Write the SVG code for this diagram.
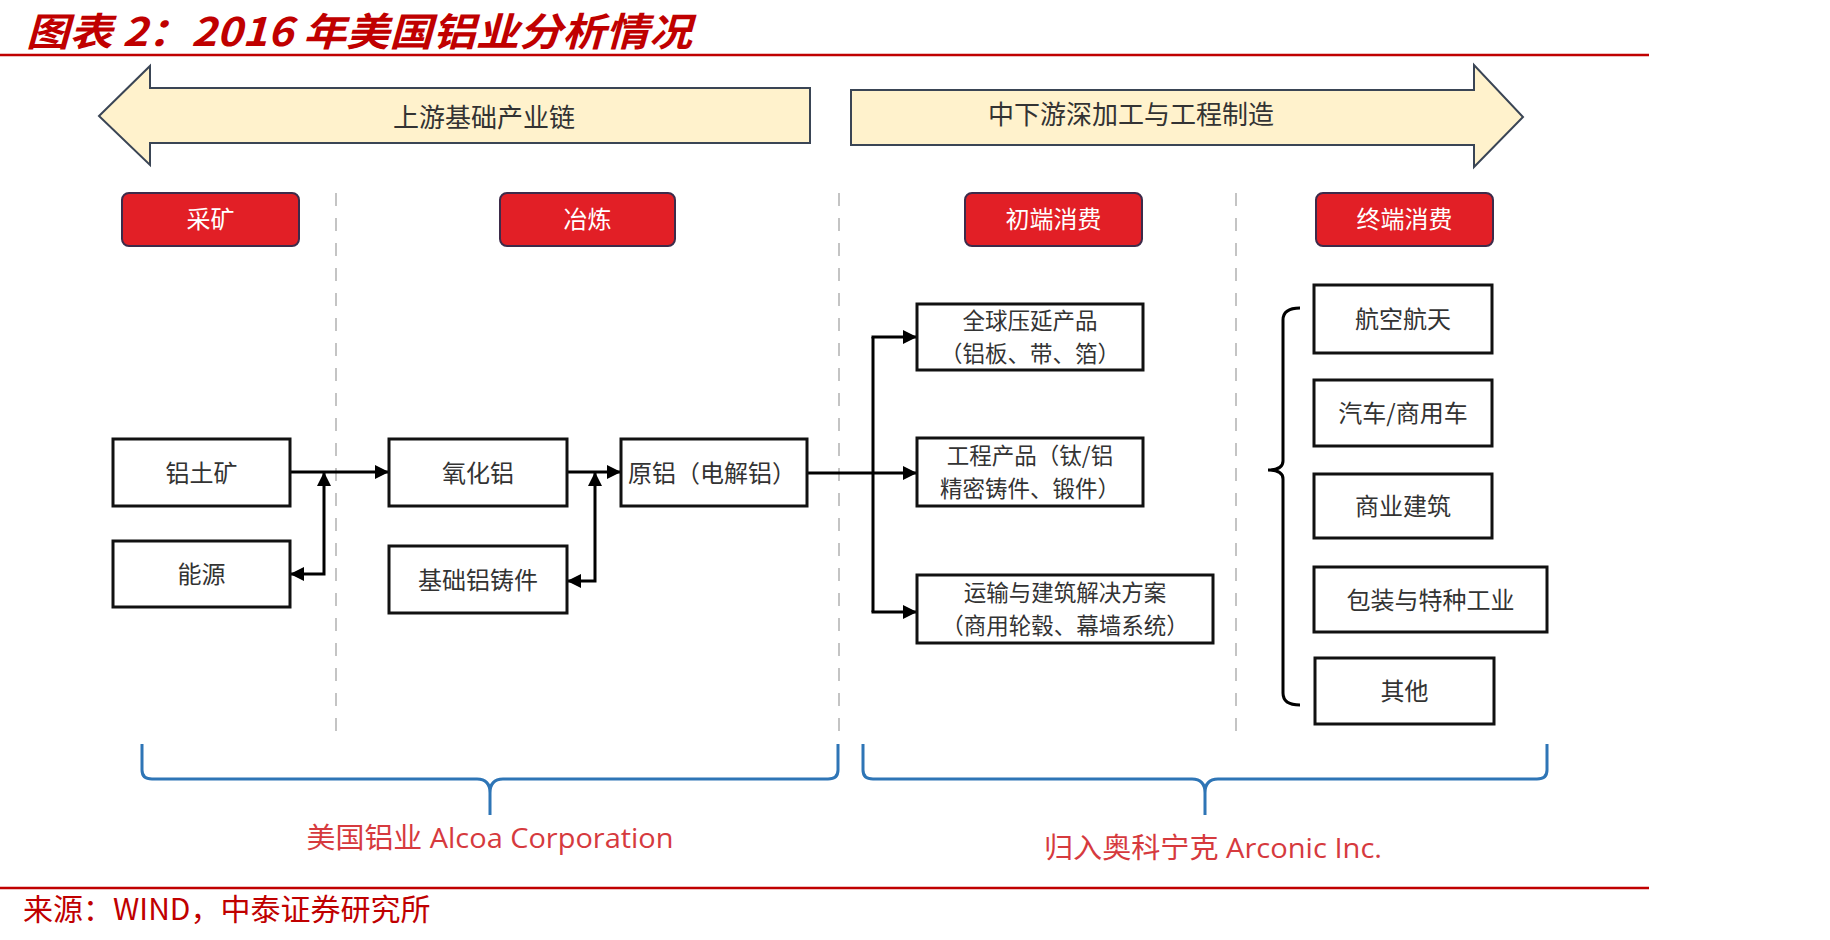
<svg xmlns="http://www.w3.org/2000/svg" width="1830" height="940" viewBox="0 0 1830 940">
<defs>
<style>
.t{font-family:"Noto Sans CJK SC","Liberation Sans",sans-serif;}
.box rect{fill:#fff;stroke:#111;stroke-width:3;}
.box text{font-family:"Noto Sans CJK SC","Liberation Sans",sans-serif;font-size:24px;fill:#333;text-anchor:middle;}
.box text.two{font-size:22.5px;}
.hdr rect{fill:#e21f26;stroke:#3d2b4a;stroke-width:2;}
.hdr text{font-family:"Noto Sans CJK SC","Liberation Sans",sans-serif;font-size:24px;fill:#fff;text-anchor:middle;}
.band polygon{fill:#fff2cc;stroke:#3a4555;stroke-width:2;stroke-linejoin:miter;}
.band text{font-family:"Noto Sans CJK SC","Liberation Sans",sans-serif;font-size:26px;fill:#333;text-anchor:middle;}
.dash{stroke:#c4c4c4;stroke-width:2;stroke-dasharray:13 12;fill:none;}
.conn{stroke:#000;stroke-width:3;fill:none;}
.brace{stroke:#2e75b6;stroke-width:3;fill:none;stroke-linejoin:round;}
.rule{stroke:#c00000;stroke-width:2.5;}
.co{font-family:"Open Sans","Noto Sans CJK SC",sans-serif;font-size:28px;fill:#d63a3e;text-anchor:middle;}
</style>
<marker id="ah" markerUnits="userSpaceOnUse" markerWidth="14" markerHeight="14" refX="13" refY="7" orient="auto-start-reverse">
<path d="M0,0 L14,7 L0,14 z" fill="#000"/>
</marker>
</defs>
<rect width="1830" height="940" fill="#fff"/>

<g id="title">
<text x="26" y="46" class="t" font-size="39" font-weight="bold" font-style="italic" fill="#c00000" textLength="666" lengthAdjust="spacingAndGlyphs">图表 2：2016 年美国铝业分析情况</text>
<line x1="0" y1="55" x2="1649" y2="55" class="rule"/>
</g>

<g id="upstream-band" class="band">
<polygon points="99,116 150,66 150,88 810,88 810,143 150,143 150,165"/>
<text x="484" y="127">上游基础产业链</text>
</g>
<g id="downstream-band" class="band">
<polygon points="851,90 1474,90 1474,65 1523,117 1474,167 1474,145 851,145"/>
<text x="1131" y="124">中下游深加工与工程制造</text>
</g>

<g id="dividers">
<line x1="336" y1="193" x2="336" y2="742" class="dash"/>
<line x1="839" y1="193" x2="839" y2="742" class="dash"/>
<line x1="1236" y1="193" x2="1236" y2="742" class="dash"/>
</g>

<g id="hdr-mining" class="hdr"><rect x="122" y="193" width="177" height="53" rx="7"/><text x="210.5" y="228">采矿</text></g>
<g id="hdr-smelting" class="hdr"><rect x="500" y="193" width="175" height="53" rx="7"/><text x="587.5" y="228">冶炼</text></g>
<g id="hdr-primary" class="hdr"><rect x="965" y="193" width="177" height="53" rx="7"/><text x="1053.5" y="228">初端消费</text></g>
<g id="hdr-final" class="hdr"><rect x="1316" y="193" width="177" height="53" rx="7"/><text x="1404.5" y="228">终端消费</text></g>

<g id="connectors">
<path d="M290,472 H388" class="conn" marker-end="url(#ah)"/>
<path d="M324,473 V574 H291" class="conn" marker-start="url(#ah)" marker-end="url(#ah)"/>
<path d="M567,472 H620" class="conn" marker-end="url(#ah)"/>
<path d="M595,473 V581 H568" class="conn" marker-start="url(#ah)" marker-end="url(#ah)"/>
<path d="M807,473 H916" class="conn" marker-end="url(#ah)"/>
<path d="M873,337 V612" class="conn"/>
<path d="M871.5,337 H916" class="conn" marker-end="url(#ah)"/>
<path d="M871.5,612 H916" class="conn" marker-end="url(#ah)"/>
<path d="M1300,308 Q1283,308 1283,320 V461 Q1283,470 1268,470 Q1283,470 1283,479 V693 Q1283,705 1300,705" class="conn" stroke-width="2.5"/>
</g>

<g id="bauxite" class="box"><rect x="113" y="439" width="177" height="67"/><text x="201.5" y="481.5">铝土矿</text></g>
<g id="energy" class="box"><rect x="113" y="541" width="177" height="66"/><text x="201.5" y="583">能源</text></g>
<g id="alumina" class="box"><rect x="389" y="439" width="178" height="67"/><text x="478" y="481.5">氧化铝</text></g>
<g id="castings" class="box"><rect x="389" y="546" width="178" height="67"/><text x="478" y="588.5">基础铝铸件</text></g>
<g id="primary-al" class="box"><rect x="621" y="439" width="186" height="67"/><text x="712" y="481.5">原铝（电解铝）</text></g>

<g id="rolled" class="box"><rect x="917" y="304" width="226" height="66"/><text class="two" x="1030" y="329">全球压延产品</text><text class="two" x="1030" y="362">（铝板、带、箔）</text></g>
<g id="engineered" class="box"><rect x="917" y="438" width="226" height="68"/><text class="two" x="1030" y="464">工程产品（钛/铝</text><text class="two" x="1030" y="497">精密铸件、锻件）</text></g>
<g id="transport" class="box"><rect x="917" y="575" width="296" height="68"/><text class="two" x="1065" y="601">运输与建筑解决方案</text><text class="two" x="1065" y="634">（商用轮毂、幕墙系统）</text></g>

<g id="aerospace" class="box"><rect x="1314" y="285" width="178" height="68"/><text x="1403" y="328">航空航天</text></g>
<g id="auto" class="box"><rect x="1314" y="380" width="178" height="66"/><text x="1403" y="422">汽车/商用车</text></g>
<g id="building" class="box"><rect x="1314" y="474" width="178" height="64"/><text x="1403" y="515">商业建筑</text></g>
<g id="packaging" class="box"><rect x="1314" y="567" width="233" height="65"/><text x="1430.5" y="608.5">包装与特种工业</text></g>
<g id="other" class="box"><rect x="1315" y="658" width="179" height="66"/><text x="1404.5" y="700">其他</text></g>

<g id="alcoa">
<path d="M142,744 V770 Q142,779 152,779 H477 Q490,779 490,793 V815 M490,793 Q490,779 503,779 H828 Q838,779 838,770 V744" class="brace"/>
<text x="490" y="848" class="co" textLength="367" lengthAdjust="spacingAndGlyphs">美国铝业 Alcoa Corporation</text>
</g>
<g id="arconic">
<path d="M863,744 V770 Q863,779 873,779 H1192 Q1205,779 1205,793 V815 M1205,793 Q1205,779 1218,779 H1537 Q1547,779 1547,770 V744" class="brace"/>
<text x="1213" y="858" class="co" textLength="338" lengthAdjust="spacingAndGlyphs">归入奥科宁克 Arconic Inc.</text>
</g>

<g id="source">
<line x1="0" y1="888" x2="1649" y2="888" class="rule"/>
<text x="23" y="920" class="t" font-size="30" fill="#c00000">来源：WIND，中泰证券研究所</text>
</g>
</svg>
